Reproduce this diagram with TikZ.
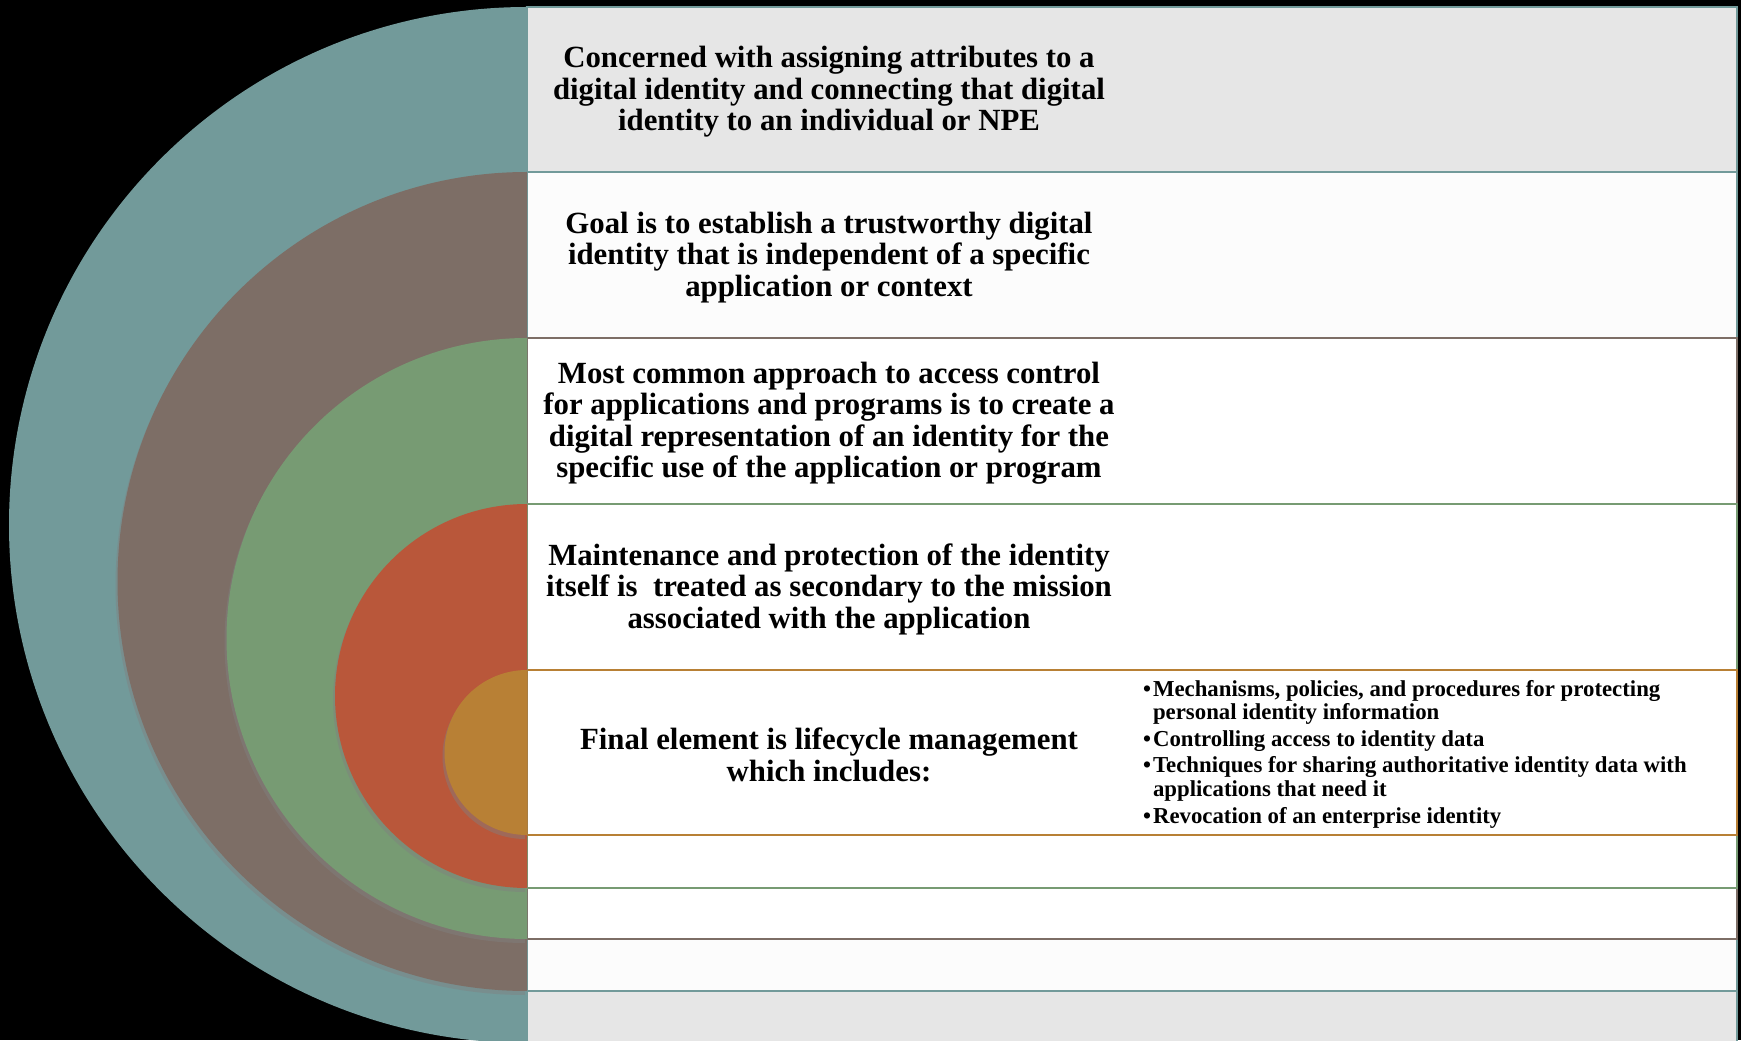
\documentclass[tikz,border=0pt]{standalone}
\usepackage{fontspec}
\setmainfont{Liberation Serif}
\usetikzlibrary{shadows}

\definecolor{ringteal}{RGB}{114,154,154}
\definecolor{ringbrown}{RGB}{125,110,102}
\definecolor{ringgreen}{RGB}{119,155,115}
\definecolor{ringred}{RGB}{185,87,58}
\definecolor{ringorange}{RGB}{184,128,53}
\definecolor{panelgray}{RGB}{230,230,230}
\definecolor{panelwhite}{RGB}{252,252,252}

\tikzset{
  panel/.style={line width=1pt},
  ring/.style={drop shadow={shadow xshift=-1pt,shadow yshift=-2pt,opacity=0.45}},
  maintext/.style={align=center,yshift=-1.2pt,font=\fontsize{15.4}{15.7}\selectfont\bfseries},
  bullettext/.style={align=left,anchor=west,font=\fontsize{11.4}{11.8}\selectfont\bfseries}
}

\begin{document}
\begin{tikzpicture}[x=0.5pt,y=0.5pt]
    \fill[black] (0,0) rectangle (1741,1040);
    \useasboundingbox (0,0) rectangle (1741,1040);

    % panels behind the rings
    \draw[panel,draw=ringteal,fill=panelgray] (527,-5) rectangle (1737,1033);
    \draw[panel,draw=ringteal,fill=panelwhite] (527,49) rectangle (1737,868);
    \draw[panel,draw=ringbrown,fill=white] (527,101) rectangle (1737,702);
    \draw[panel,draw=ringgreen,fill=white] (527,152) rectangle (1737,536);
    \draw[panel,draw=ringorange,fill=white] (527,205) rectangle (1737,370);

    % half rings
    \fill[ringteal] (527,1033) arc[start angle=90,end angle=270,radius=518] -- cycle;
    \fill[ring,ringbrown] (527,868) arc[start angle=90,end angle=270,radius=409.5] -- cycle;
    \fill[ring,ringgreen] (527,702) arc[start angle=90,end angle=270,radius=300.5] -- cycle;
    \fill[ring,ringred] (527,536) arc[start angle=90,end angle=270,radius=192] -- cycle;
    \fill[ring,ringorange] (527,370) arc[start angle=90,end angle=270,radius=82.5] -- cycle;

    \node[maintext] (attrib) at (829,950.5) {Concerned with assigning attributes to a\\digital identity and connecting that digital\\identity to an individual or NPE};
    \node[maintext] (goal) at (829,785) {Goal is to establish a trustworthy digital\\identity that is independent of a specific\\application or context};
    \node[maintext] (approach) at (829,619) {Most common approach to access control\\for applications and programs is to create a\\digital representation of an identity for the\\specific use of the application or program};
    \node[maintext] (maint) at (829,453) {Maintenance and protection of the identity\\itself is\ \ treated as secondary to the mission\\associated with the application};
    \node[maintext] (final) at (829,287.5) {Final element is lifecycle management\\which includes:};

    \node[bullettext] (lifecycle) at (1136,286) {\textbullet\kern1pt Mechanisms, policies, and procedures for protecting\\
      \hphantom{\textbullet\kern1pt}personal identity information\\[1.5pt]
      \textbullet\kern1pt Controlling access to identity data\\[1.5pt]
      \textbullet\kern1pt Techniques for sharing authoritative identity data with\\
      \hphantom{\textbullet\kern1pt}applications that need it\\[1.5pt]
      \textbullet\kern1pt Revocation of an enterprise identity};
\end{tikzpicture}
\end{document}
